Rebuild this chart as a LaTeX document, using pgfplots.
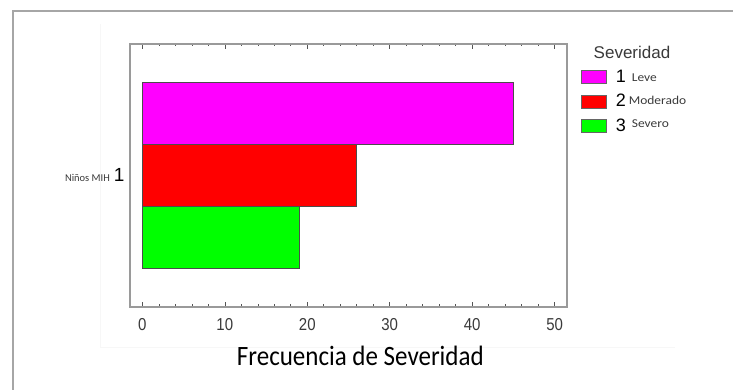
\documentclass[border=0pt]{standalone}
\usepackage{pgfplots}
\pgfplotsset{compat=1.18}
\usepackage{fontspec}
\setmainfont{Liberation Sans}
\newfontfamily\calibri{Carlito}
\definecolor{framegray}{HTML}{A6A6A6}
\definecolor{axgray}{HTML}{9A9A9A}
\definecolor{tickgray}{HTML}{555555}
\definecolor{lblgray}{HTML}{3A3A3A}
\definecolor{mag}{HTML}{FF00FF}
\definecolor{rojo}{HTML}{FF0000}
\definecolor{verde}{HTML}{00FF00}
\begin{document}
\begin{tikzpicture}
\path[use as bounding box] (0,0) rectangle (733pt,390pt);
\draw[black!3, line width=0.6pt] (100pt,366pt) -- (100pt,43pt) -- (675pt,43pt);
\draw[framegray, line width=1.3pt] (13pt,0pt) -- (13pt,379pt) -- (733pt,379pt);
\begin{axis}[
  at={(130pt,83pt)}, anchor=south west,
  scale only axis, width=437pt, height=263pt,
  xmin=-1.5, xmax=51.5, ymin=-2.12, ymax=2.12,
  axis line style={axgray, line width=1.3pt},
  xtick={0,10,...,50},
  minor xtick={2,4,6,8,12,14,16,18,22,24,26,28,32,34,36,38,42,44,46,48},
  tick align=inside,
  xtick pos=both,
  major tick length=5pt, minor tick length=2.5pt,
  every tick/.style={tickgray, line width=0.6pt},
  ytick={0}, yticklabels={{\calibri\fontsize{10.5}{10.5}\selectfont\color{lblgray}Niños MIH}\hspace{4pt}{\fontsize{19}{19}\selectfont 1}},
  ytick style={draw=none},
  /pgf/number format/assume math mode=true,
  xticklabel={\scalebox{1}[1.15]{\pgfmathprintnumber{\tick}}},
  xticklabel style={font=\fontsize{15}{15}\selectfont, text=lblgray, anchor=center, yshift=-18pt},
  yticklabel style={xshift=-2pt},
  xlabel={\scalebox{1}[1.12]{\calibri\fontsize{25}{25}\selectfont Frecuencia de Severidad}},
  xlabel style={at={(axis description cs:0.527,-0.186)}, anchor=center},
  legend style={at={(1.033,0.905)}, anchor=north west, draw=none, fill=none,
    inner sep=0pt, outer sep=0pt, row sep=8.5pt, font=\fontsize{18}{18}\selectfont,
    nodes={inner sep=1pt, anchor=west},
    /tikz/every odd column/.append style={column sep=8pt}},
  legend cell align=left,
  clip=false,
]
\addplot[xbar, bar width=1, bar shift=0, fill=mag, draw=black!70, line width=0.5pt,
  legend image code/.code={\draw[fill=mag, draw=black!60, line width=0.4pt] (0pt,-6.5pt) rectangle (25pt,6.5pt);}]
  coordinates {(45,1)};
\addlegendentry{1\,\raisebox{1pt}{\calibri\fontsize{12}{12}\selectfont\color{lblgray}\scalebox{1.12}[1]{ Leve}}}
\addplot[xbar, bar width=1, bar shift=0, fill=rojo, draw=black!70, line width=0.5pt,
  legend image code/.code={\draw[fill=rojo, draw=black!60, line width=0.4pt] (0pt,-6.5pt) rectangle (25pt,6.5pt);}]
  coordinates {(26,0)};
\addlegendentry{2\,\raisebox{2pt}{\calibri\fontsize{12}{12}\selectfont\color{lblgray}\scalebox{1.12}[1]{Moderado}}}
\addplot[xbar, bar width=1, bar shift=0, fill=verde, draw=black!70, line width=0.5pt,
  legend image code/.code={\draw[fill=verde, draw=black!60, line width=0.4pt] (0pt,-6.5pt) rectangle (25pt,6.5pt);}]
  coordinates {(19,-1)};
\addlegendentry{3\,\raisebox{4pt}{\calibri\fontsize{12}{12}\selectfont\color{lblgray}\scalebox{1.12}[1]{ Severo}}}
\end{axis}
\node[font=\fontsize{17}{17}\selectfont, text=lblgray, anchor=center] at (632pt,338pt) {Severidad};
\end{tikzpicture}
\end{document}
